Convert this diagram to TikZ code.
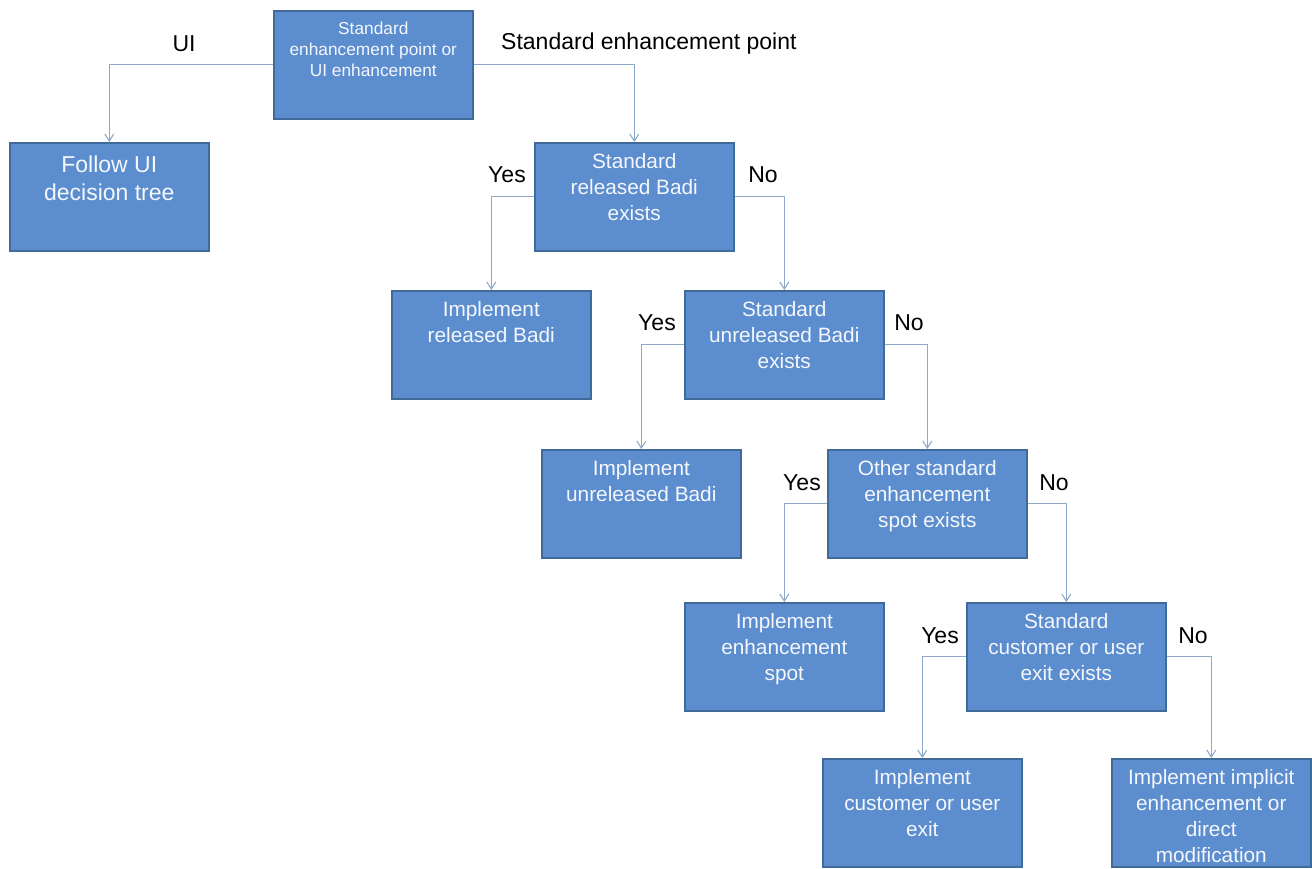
\documentclass[tikz,border=0pt]{standalone}
\usepackage{fontspec}
\setmainfont{Liberation Sans}
\usetikzlibrary{arrows.meta}

\definecolor{boxfill}{HTML}{5B8DCF}
\definecolor{boxline}{HTML}{3F6A9A}
\definecolor{wire}{HTML}{8EA8CA}
\definecolor{boxtext}{HTML}{F4F7FB}

% Box body: top gap, font size, line spacing, lines of text
\newcommand\boxbody[4]{%
  \parbox[t][108pt][t]{199pt}{\centering\fontsize{#2}{#3}\selectfont
    \vspace*{#1}#4\par}}

\tikzset{
  box/.style={draw=boxline, line width=1.6pt, fill=boxfill, text=boxtext,
    inner sep=0pt, anchor=north west},
  link/.style={draw=wire, line width=1.3pt,
    -{Straight Barb[length=7pt,width=9pt,line width=1.1pt]}},
  lbl/.style={font=\fontsize{23}{27}\selectfont, text=black, inner sep=0pt}
}

\begin{document}
\begin{tikzpicture}[x=1pt, y=-1pt]
  \useasboundingbox (0,0) rectangle (1312,869);

  % decision and action boxes
  \node[box] (root) at (273,10)
    {\boxbody{11pt}{17.3}{21}{Standard\\enhancement point or\\UI enhancement}};
  \node[box] (ui) at (9,142)
    {\boxbody{13pt}{23}{28}{Follow UI\\decision tree}};
  \node[box] (relq) at (534,142)
    {\boxbody{11pt}{20.8}{26}{Standard\\released Badi\\exists}};
  \node[box] (rel) at (391,290)
    {\boxbody{11pt}{20.8}{26}{Implement\\released Badi}};
  \node[box] (unrq) at (684,290)
    {\boxbody{11pt}{20.8}{26}{Standard\\unreleased Badi\\exists}};
  \node[box] (unr) at (541,449)
    {\boxbody{11pt}{20.8}{26}{Implement\\unreleased Badi}};
  \node[box] (spotq) at (827,449)
    {\boxbody{11pt}{20.8}{26}{Other standard\\enhancement\\spot exists}};
  \node[box] (spot) at (684,602)
    {\boxbody{11pt}{20.8}{26}{Implement\\enhancement\\spot}};
  \node[box] (exitq) at (966,602)
    {\boxbody{11pt}{20.8}{26}{Standard\\customer or user\\exit exists}};
  \node[box] (exit) at (822,758)
    {\boxbody{11pt}{20.8}{26}{Implement\\customer or user\\exit}};
  \node[box] (impl) at (1111,758)
    {\boxbody{11pt}{20.8}{26}{Implement implicit\\enhancement or\\direct\\modification}};

  % connectors
  \draw[link] (root.west) -| (ui.north);
  \draw[link] (root.east) -| (relq.north);
  \draw[link] (relq.west) -| (rel.north);
  \draw[link] (relq.east) -| (unrq.north);
  \draw[link] (unrq.west) -| (unr.north);
  \draw[link] (unrq.east) -| (spotq.north);
  \draw[link] (spotq.west) -| (spot.north);
  \draw[link] (spotq.east) -| (exitq.north);
  \draw[link] (exitq.west) -| (exit.north);
  \draw[link] (exitq.east) -| (impl.north);

  % branch labels
  \node[lbl] (lui)  at (184,44) {UI};
  \node[lbl, anchor=west] (lstd) at (501,44) {Standard enhancement point};
  \node[lbl] (y1) at (507,175) {Yes};
  \node[lbl] (n1) at (763,175) {No};
  \node[lbl] (y2) at (657,323) {Yes};
  \node[lbl] (n2) at (909,323) {No};
  \node[lbl] (y3) at (802,483) {Yes};
  \node[lbl] (n3) at (1054,483) {No};
  \node[lbl] (y4) at (940,636) {Yes};
  \node[lbl] (n4) at (1193,636) {No};
\end{tikzpicture}
\end{document}
